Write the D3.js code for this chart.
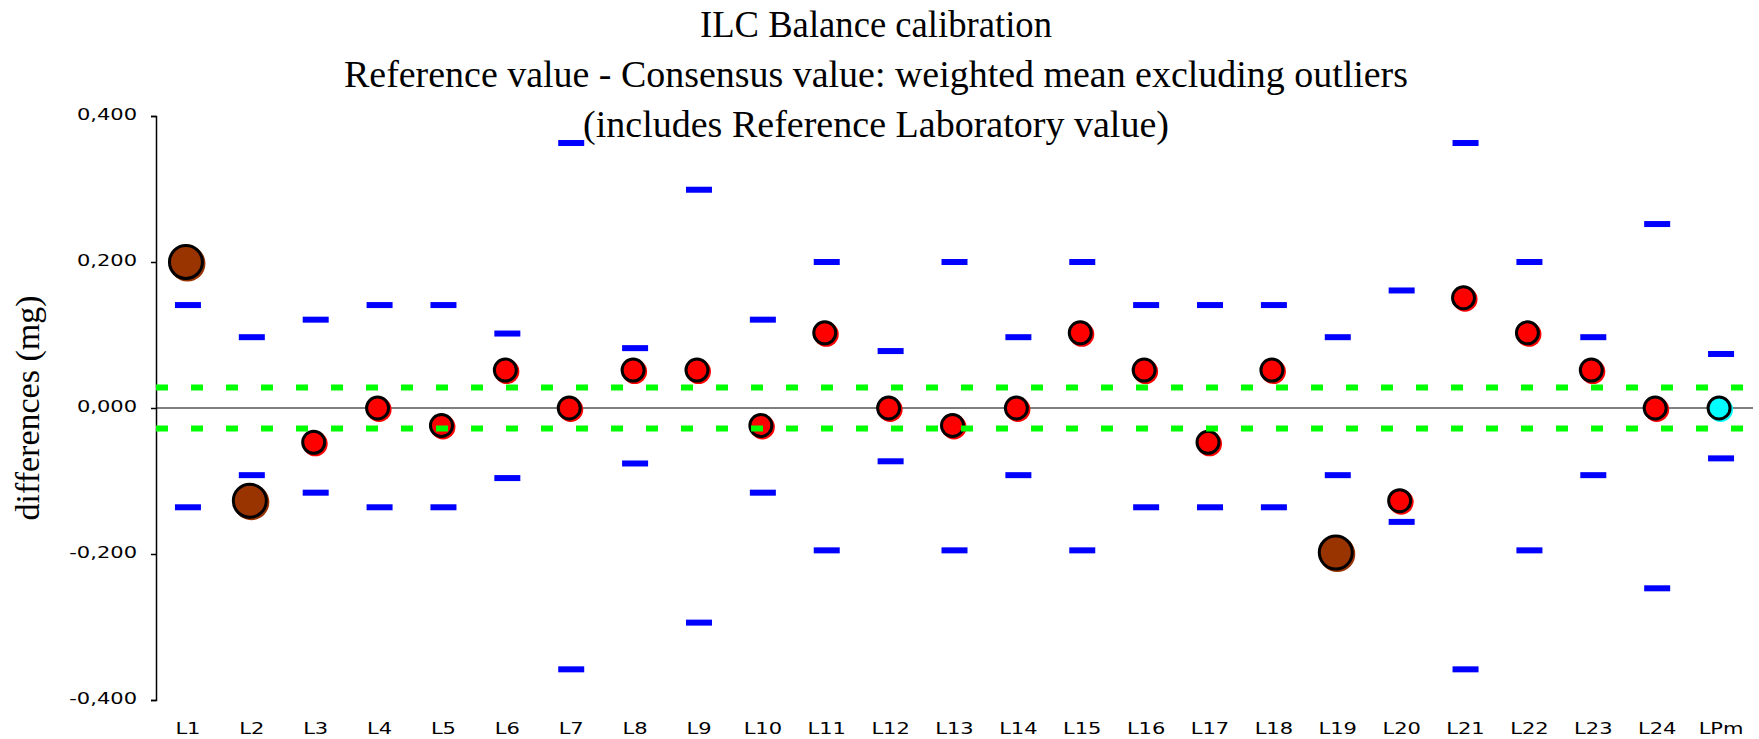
<!DOCTYPE html>
<html>
<head>
<meta charset="utf-8">
<script src="https://cdn.jsdelivr.net/npm/d3@7"></script>
<style>
  body { margin: 0; background: #fff; }
  .tick text, .xlab { font-family: "DejaVu Sans", sans-serif; font-size: 15px; fill: #000; }
  .title { font-family: "Liberation Serif", "Times New Roman", serif; font-size: 37px; fill: #000; }
</style>
</head>
<body>
<svg width="1759" height="739"></svg>
<script>
// laboratories and their results (mg)
var labs = ["L1","L2","L3","L4","L5","L6","L7","L8","L9","L10","L11","L12","L13",
            "L14","L15","L16","L17","L18","L19","L20","L21","L22","L23","L24","LPm"];
var diffs = [0.200, -0.127, -0.047, 0.000, -0.024, 0.052, 0.000, 0.052, 0.052, -0.024, 0.103, 0.000, -0.024,
             0.000, 0.103, 0.052, -0.047, 0.052, -0.198, -0.127, 0.151, 0.103, 0.052, 0.000, 0.000];
var upper = [0.141, 0.097, 0.121, 0.141, 0.141, 0.102, 0.363, 0.082, 0.299, 0.121, 0.200, 0.078, 0.200,
             0.097, 0.200, 0.141, 0.141, 0.141, 0.097, 0.161, 0.363, 0.200, 0.097, 0.252, 0.074];
var lower = [-0.136, -0.092, -0.116, -0.136, -0.136, -0.096, -0.358, -0.076, -0.294, -0.116, -0.195, -0.073, -0.195,
             -0.092, -0.195, -0.136, -0.136, -0.136, -0.092, -0.156, -0.358, -0.195, -0.092, -0.247, -0.069];
// o = outlier, n = normal, r = reference lab
var kind = ["o","o","n","n","n","n","n","n","n","n","n","n","n",
            "n","n","n","n","n","o","n","n","n","n","n","r"];
var limits = [0.028, -0.028];
var yTicks = [-0.4, -0.2, 0, 0.2, 0.4];
var titles = ["ILC Balance calibration",
              "Reference value - Consensus value: weighted mean excluding outliers",
              "(includes Reference Laboratory value)"];

var svg = d3.select("svg");

var x = d3.scaleBand().domain(labs).range([156, 1753]).padding(0),
    y = d3.scaleLinear().domain([-0.4, 0.4]).range([700, 116]);

var locale = d3.formatLocale({decimal: ",", thousands: ".", grouping: [3], currency: ["", ""], minus: "-"});
var fmt = locale.format(".3f");

var data = labs.map(function(d, i) {
  return {lab: d, v: diffs[i], hi: upper[i], lo: lower[i], k: kind[i]};
});

// titel
svg.selectAll(".title")
  .data(titles)
  .enter().append("text")
    .attr("class", "title")
    .attr("x", 876)
    .attr("y", function(d, i) { return [37, 87, 137][i]; })
    .attr("text-anchor", "middle")
    .attr("textLength", function(d, i) { return [352, 1064, 586][i]; })
    .attr("lengthAdjust", "spacingAndGlyphs")
    .text(function(d) { return d; });

// y as
var yAxis = svg.append("g")
    .attr("transform", "translate(156,0)")
    .call(d3.axisLeft(y).tickValues(yTicks).tickFormat(fmt).tickSize(5).tickPadding(14));
yAxis.select(".domain").attr("stroke", "#000").attr("stroke-width", 1.5);
yAxis.selectAll(".tick line").attr("stroke", "#000").attr("stroke-width", 1.5);
yAxis.selectAll(".tick text").attr("dy", "0.22em").style("font-size", "15px").style("font-family", "DejaVu Sans");
yAxis.selectAll(".tick text").each(function() {
  var t = d3.select(this);
  t.attr("textLength", this.getComputedTextLength() * 1.4).attr("lengthAdjust", "spacingAndGlyphs");
});

svg.append("text")
    .attr("class", "title")
    .attr("transform", "translate(39,408) rotate(-90)")
    .attr("text-anchor", "middle")
    .style("font-size", "34px")
    .text("differences (mg)");

// x labels
svg.selectAll(".xlab")
  .data(labs)
  .enter().append("text")
    .attr("class", "xlab")
    .attr("x", function(d) { return x(d) + x.bandwidth() / 2; })
    .attr("y", 734)
    .attr("text-anchor", "middle")
    .text(function(d) { return d; })
    .each(function() {
      d3.select(this).attr("textLength", this.getComputedTextLength() * 1.4).attr("lengthAdjust", "spacingAndGlyphs");
    });

// nul lijn
svg.append("line")
    .attr("x1", 156).attr("x2", 1753)
    .attr("y1", y(0)).attr("y2", y(0))
    .attr("stroke", "#000").attr("stroke-width", 1.2);

// onzekerheid streepjes
var cx = function(d) { return x(d.lab) + x.bandwidth() / 2; };
svg.selectAll(".hi")
  .data(data)
  .enter().append("rect")
    .attr("x", function(d) { return cx(d) - 13; })
    .attr("y", function(d) { return y(d.hi) - 3; })
    .attr("width", 26).attr("height", 6)
    .attr("fill", "#0000ff");
svg.selectAll(".lo")
  .data(data)
  .enter().append("rect")
    .attr("x", function(d) { return cx(d) - 13; })
    .attr("y", function(d) { return y(d.lo) - 3; })
    .attr("width", 26).attr("height", 6)
    .attr("fill", "#0000ff");

var color = {o: "#993300", n: "#ff0000", r: "#00ffff"};
var rad = function(d) { return d.k == "o" ? 16.5 : 11; };

// schaduw + punt
svg.selectAll(".shadow")
  .data(data)
  .enter().append("circle")
    .attr("cx", function(d) { return cx(d) - 0.5; })
    .attr("cy", function(d) { return y(d.v) + 1.5; })
    .attr("r", function(d) { return rad(d) + 1.5; })
    .attr("fill", function(d) { return color[d.k]; });
svg.selectAll(".dot")
  .data(data)
  .enter().append("circle")
    .attr("cx", function(d) { return cx(d) - 2; })
    .attr("cy", function(d) { return y(d.v); })
    .attr("r", function(d) { return rad(d); })
    .attr("fill", function(d) { return color[d.k]; })
    .attr("stroke", "#000").attr("stroke-width", 3);

// groene grenzen
svg.selectAll(".limit")
  .data(limits)
  .enter().append("line")
    .attr("x1", 156).attr("x2", 1753)
    .attr("y1", function(d) { return y(d); })
    .attr("y2", function(d) { return y(d); })
    .attr("stroke", "#00ff00").attr("stroke-width", 6)
    .attr("stroke-dasharray", "12,23");
</script>
</body>
</html>
